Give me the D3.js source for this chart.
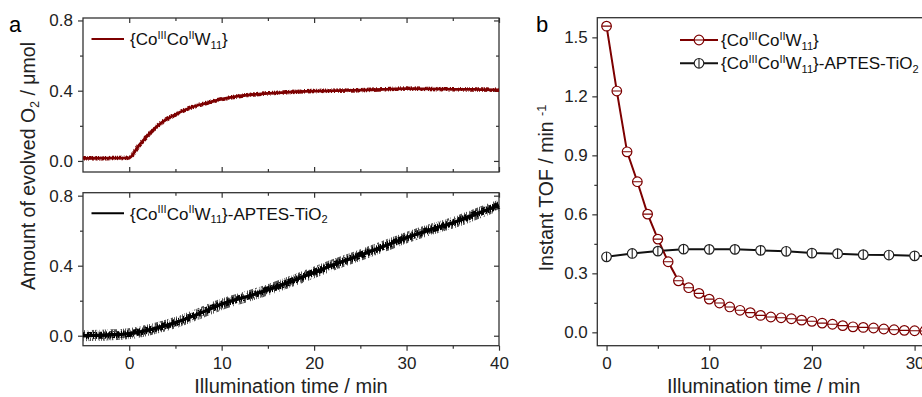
<!DOCTYPE html>
<html><head><meta charset="utf-8">
<script src="https://cdn.jsdelivr.net/npm/d3@7"></script>
<style>body{margin:0;background:#fff}</style>
</head><body>
<script>
// ---------------- data ----------------
// panel a, top: {CoIIICoIIW11}
const topTime = [-5,-2.5,0,1,2,3,4,5,6,7,8,10,12,14,16,18,20,22.5,25,27.5,30,32.5,35,37.5,40];
const topO2   = [0.015,0.016,0.018,0.085,0.145,0.197,0.236,0.265,0.290,0.310,0.325,0.352,0.370,0.381,0.388,0.394,0.398,0.400,0.403,0.408,0.412,0.410,0.408,0.407,0.405];
// panel a, bottom: {CoIIICoIIW11}-APTES-TiO2
const botTime = [-5,-2.5,0,2.5,5,7.5,10,12.5,15,17.5,20,22.5,25,27.5,30,32.5,35,37.5,40];
const botO2   = [0.000,0.004,0.012,0.038,0.075,0.125,0.180,0.220,0.262,0.310,0.362,0.413,0.460,0.510,0.560,0.605,0.645,0.695,0.745];
// panel b
const tofRedTime = [0,1,2,3,4,5,6,7,8,9,10,11,12,13,14,15,16,17,18,19,20,21,22,23,24,25,26,27,28,29,30,31];
const tofRed     = [1.557,1.227,0.918,0.766,0.601,0.474,0.359,0.262,0.227,0.198,0.169,0.149,0.129,0.112,0.100,0.086,0.078,0.074,0.069,0.062,0.056,0.047,0.041,0.034,0.028,0.025,0.022,0.017,0.013,0.010,0.008,0.007];
const tofBlackTime = [0,2.5,5,7.5,10,12.5,15,17.5,20,22.5,25,27.5,30,32.5];
const tofBlack     = [0.384,0.401,0.413,0.423,0.422,0.422,0.417,0.412,0.403,0.400,0.395,0.393,0.389,0.388];
// ticks
const leftXTicks = [0,10,20,30,40];
const leftXMinor = [5,15,25,35];
const leftYTicks = [0,0.4,0.8];
const leftYMinor = [0.2,0.6];
const rightXTicks = [0,10,20,30];
const rightXMinor = [5,15,25];
const rightYTicks = [0,0.3,0.6,0.9,1.2,1.5];
const rightYMinor = [0.15,0.45,0.75,1.05,1.35];
// labels
const nameA = [{t:"{Co"},{t:"III",s:"sup"},{t:"Co"},{t:"II",s:"sup"},{t:"W"},{t:"11",s:"sub"},{t:"}"}];
const nameB = nameA.concat([{t:"-APTES-TiO"},{t:"2",s:"sub"}]);
const xTitle = "Illumination time / min";
const yTitleA = [{t:"Amount of evolved O"},{t:"2",s:"sub"},{t:" / μmol"}];
const yTitleB = [{t:"Instant TOF / min "},{t:"-1",s:"sup"}];

// ---------------- drawing ----------------
const RED = "#7d0000", AX = "#333", FONT = "Arial, 'Liberation Sans', sans-serif";
const svg = d3.select("body").append("svg").attr("width",922).attr("height",397)
  .style("font-family",FONT).style("background","#fff");
const defs = svg.append("defs");

// measurement-noise texture: a thick stroke masked by vertical streak noise
function hair(id, seed, fx, fy, k, b){
  const f = defs.append("filter").attr("id",id).attr("x","-2%").attr("y","-30%")
    .attr("width","104%").attr("height","160%").attr("color-interpolation-filters","sRGB");
  f.append("feTurbulence").attr("type","fractalNoise").attr("baseFrequency",fx+" "+fy)
    .attr("numOctaves",2).attr("seed",seed).attr("result","n");
  f.append("feColorMatrix").attr("in","n").attr("type","matrix")
    .attr("values",`0 0 0 0 0  0 0 0 0 0  0 0 0 0 0  ${k} 0 0 0 ${-b}`).attr("result","m");
  f.append("feComposite").attr("in","SourceGraphic").attr("in2","m").attr("operator","in");
}
hair("hb1",4,0.9,0.09,12,5.6);
hair("hb2",9,0.8,0.12,12,5.3);
hair("hr",6,0.9,0.2,10,4.6);

function rich(sel, parts, size){
  let off = 0;
  parts.forEach(p=>{
    const target = p.s==="sup" ? -0.36*size : p.s==="sub" ? 0.22*size : 0;
    const ts = sel.append("tspan").attr("dy", (target-off)+"px").text(p.t);
    if (p.s) ts.attr("font-size", (size*0.65)+"px");
    off = target;
  });
}
function styleAxis(g, fs){
  g.select(".domain").remove();
  g.selectAll("line").attr("stroke",AX).attr("stroke-width",1.2);
  g.selectAll("text").attr("font-size",fs).attr("fill","#222").attr("font-family",FONT);
}
function ax(g, gen, fs){ g.call(gen); styleAxis(g, fs||17); return g; }

// scales
const xL = d3.scaleLinear().domain([-5,40]).range([83,499]);
const yTop = d3.scaleLinear().domain([-0.063,0.814]).range([172,18]);
const yBot = d3.scaleLinear().domain([-0.057,0.817]).range([345.7,192.7]);
const xR = d3.scaleLinear().domain([-0.9,31.5]).range([597.3,930]);
const yR = d3.scaleLinear().domain([-0.068,1.6]).range([345.7,17.7]);
const f1 = d3.format(".1f");

// ---- panel a (two stacked) ----
function leftPanel(y, labelsX){
  const [y0,y1] = [y.range()[1], y.range()[0]];
  const g = svg.append("g");
  ax(g.append("g").attr("transform","translate(83,0)"), d3.axisLeft(y).tickValues(leftYTicks).tickSize(5).tickPadding(5).tickFormat(f1));
  ax(g.append("g").attr("transform","translate(83,0)"), d3.axisLeft(y).tickValues(leftYMinor).tickSize(3).tickFormat(""));
  ax(g.append("g").attr("transform","translate(499,0)"), d3.axisRight(y).tickValues(leftYTicks).tickSize(-5).tickFormat(""));
  ax(g.append("g").attr("transform","translate(499,0)"), d3.axisRight(y).tickValues(leftYMinor).tickSize(-3).tickFormat(""));
  ax(g.append("g").attr("transform",`translate(0,${y0})`), d3.axisTop(xL).tickValues(leftXTicks).tickSize(-5).tickFormat(""));
  ax(g.append("g").attr("transform",`translate(0,${y0})`), d3.axisTop(xL).tickValues(leftXMinor).tickSize(-3).tickFormat(""));
  if (labelsX){
    ax(g.append("g").attr("transform",`translate(0,${y1})`), d3.axisBottom(xL).tickValues(leftXTicks).tickSize(5).tickPadding(6).tickFormat(d3.format("d")));
    ax(g.append("g").attr("transform",`translate(0,${y1})`), d3.axisBottom(xL).tickValues(leftXMinor).tickSize(3).tickFormat(""));
  } else {
    ax(g.append("g").attr("transform",`translate(0,${y1})`), d3.axisBottom(xL).tickValues(leftXTicks).tickSize(-5).tickFormat(""));
    ax(g.append("g").attr("transform",`translate(0,${y1})`), d3.axisBottom(xL).tickValues(leftXMinor).tickSize(-3).tickFormat(""));
  }
  g.append("rect").attr("x",83).attr("y",y0).attr("width",499-83).attr("height",y1-y0)
    .attr("fill","none").attr("stroke",AX).attr("stroke-width",1.3);
  return g;
}
leftPanel(yTop,false);
leftPanel(yBot,true);

const lineTop = d3.line().x((d,i)=>xL(topTime[i])).y(d=>yTop(d)).curve(d3.curveMonotoneX);
const lineBot = d3.line().x((d,i)=>xL(botTime[i])).y(d=>yBot(d)).curve(d3.curveMonotoneX);
svg.append("path").attr("d",lineTop(topO2)).attr("fill","none").attr("stroke",RED).attr("stroke-width",4.5).attr("filter","url(#hr)");
svg.append("path").attr("d",lineTop(topO2)).attr("fill","none").attr("stroke",RED).attr("stroke-width",2.8);

svg.append("path").attr("d",lineBot(botO2)).attr("fill","none").attr("stroke","#555").attr("stroke-width",11).attr("filter","url(#hb1)");
svg.append("path").attr("d",lineBot(botO2)).attr("fill","none").attr("stroke","#000").attr("stroke-width",7).attr("filter","url(#hb2)");
svg.append("path").attr("d",lineBot(botO2)).attr("fill","none").attr("stroke","#000").attr("stroke-width",3.4);

// legends panel a
svg.append("line").attr("x1",91.5).attr("x2",124).attr("y1",39).attr("y2",39).attr("stroke",RED).attr("stroke-width",2);
rich(svg.append("text").attr("x",130).attr("y",45).attr("font-size","17px").attr("fill","#111"), nameA, 17);
svg.append("line").attr("x1",91.5).attr("x2",124).attr("y1",213.3).attr("y2",213.3).attr("stroke","#000").attr("stroke-width",2);
rich(svg.append("text").attr("x",130).attr("y",219.5).attr("font-size","17px").attr("fill","#111"), nameB, 17);

// titles panel a
svg.append("text").attr("x",(83+499)/2).attr("y",393).attr("text-anchor","middle").attr("font-size","20px").attr("fill","#222").text(xTitle);
rich(svg.append("text").attr("transform","translate(34.5,166) rotate(-90)").attr("text-anchor","middle").attr("font-size","19.5px").attr("fill","#222"), yTitleA, 19.5);
svg.append("text").attr("x",9).attr("y",32).attr("font-size","22px").attr("fill","#000").text("a");

// ---- panel b ----
const gb = svg.append("g");
ax(gb.append("g").attr("transform","translate(597.3,0)"), d3.axisLeft(yR).tickValues(rightYTicks).tickSize(5).tickPadding(4.5).tickFormat(f1));
ax(gb.append("g").attr("transform","translate(597.3,0)"), d3.axisLeft(yR).tickValues(rightYMinor).tickSize(3).tickFormat(""));
ax(gb.append("g").attr("transform","translate(0,345.7)"), d3.axisBottom(xR).tickValues(rightXTicks).tickSize(5).tickPadding(6).tickFormat(d3.format("d")));
ax(gb.append("g").attr("transform","translate(0,345.7)"), d3.axisBottom(xR).tickValues(rightXMinor).tickSize(3).tickFormat(""));
gb.append("rect").attr("x",597.3).attr("y",17.7).attr("width",930-597.3).attr("height",345.7-17.7)
  .attr("fill","none").attr("stroke",AX).attr("stroke-width",1.3);

defs.append("clipPath").attr("id","clipR").append("rect").attr("x",597.3).attr("y",10).attr("width",340).attr("height",345.7-10);
const gd = svg.append("g").attr("clip-path","url(#clipR)");
const lineR = d3.line().x((d,i)=>xR(tofRedTime[i])).y(d=>yR(d));
const lineK = d3.line().x((d,i)=>xR(tofBlackTime[i])).y(d=>yR(d));
gd.append("path").attr("d",lineK(tofBlack)).attr("fill","none").attr("stroke","#111").attr("stroke-width",2);
gd.append("path").attr("d",lineR(tofRed)).attr("fill","none").attr("stroke",RED).attr("stroke-width",2);

function marker(g, cx, cy, color, horiz){
  const r = 4.8;
  g.append("circle").attr("cx",cx).attr("cy",cy).attr("r",r).attr("fill","#fff").attr("stroke",color).attr("stroke-width",1.2);
  if (horiz) g.append("line").attr("x1",cx-r).attr("x2",cx+r).attr("y1",cy).attr("y2",cy).attr("stroke",color).attr("stroke-width",1.1);
  else g.append("line").attr("x1",cx).attr("x2",cx).attr("y1",cy-r).attr("y2",cy+r).attr("stroke",color).attr("stroke-width",1.1);
}
tofBlack.forEach((v,i)=>marker(gd, xR(tofBlackTime[i]), yR(v), "#222", false));
tofRed.forEach((v,i)=>marker(gd, xR(tofRedTime[i]), yR(v), RED, true));

// legend panel b
svg.append("line").attr("x1",680).attr("x2",718).attr("y1",40).attr("y2",40).attr("stroke",RED).attr("stroke-width",2);
marker(svg, 699, 40, RED, true);
rich(svg.append("text").attr("x",721).attr("y",46).attr("font-size","17px").attr("fill","#111"), nameA, 17);
svg.append("line").attr("x1",680).attr("x2",718).attr("y1",63.3).attr("y2",63.3).attr("stroke","#111").attr("stroke-width",2);
marker(svg, 699, 63.3, "#222", false);
rich(svg.append("text").attr("x",721).attr("y",69.3).attr("font-size","17px").attr("fill","#111"), nameB, 17);

svg.append("text").attr("x",(597.3+930)/2).attr("y",393).attr("text-anchor","middle").attr("font-size","20px").attr("fill","#222").text(xTitle);
rich(svg.append("text").attr("transform","translate(553,188) rotate(-90)").attr("text-anchor","middle").attr("font-size","19.5px").attr("fill","#222"), yTitleB, 19.5);
svg.append("text").attr("x",536).attr("y",32).attr("font-size","22px").attr("fill","#000").text("b");
</script>
</body></html>
